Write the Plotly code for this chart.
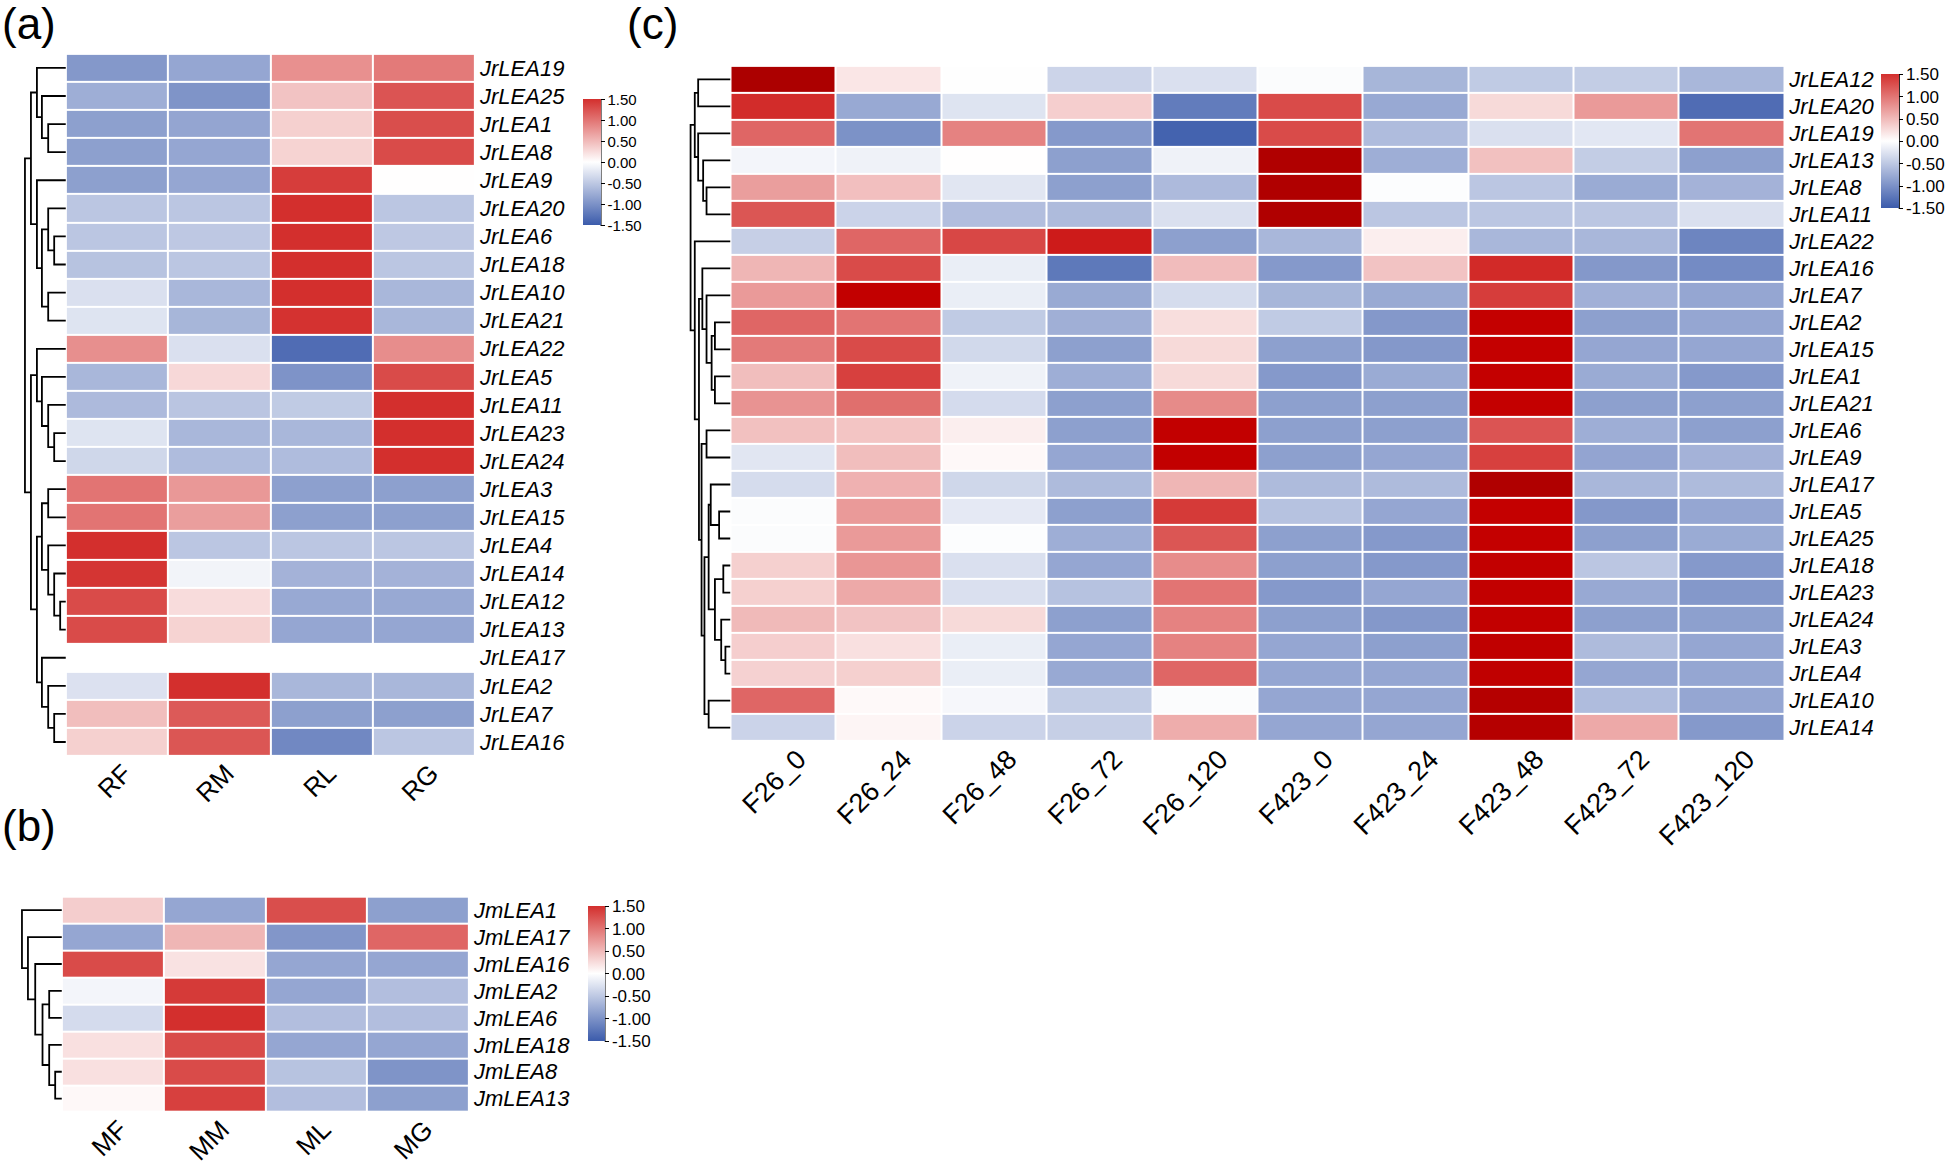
import plotly.graph_objects as go

# ---------------- data ----------------
# (a) JrLEA in four tissues (row z-scores)
rows_a = ['JrLEA19', 'JrLEA25', 'JrLEA1', 'JrLEA8', 'JrLEA9', 'JrLEA20', 'JrLEA6', 'JrLEA18',
          'JrLEA10', 'JrLEA21', 'JrLEA22', 'JrLEA5', 'JrLEA11', 'JrLEA23', 'JrLEA24', 'JrLEA3',
          'JrLEA15', 'JrLEA4', 'JrLEA14', 'JrLEA12', 'JrLEA13', 'JrLEA17', 'JrLEA2', 'JrLEA7',
          'JrLEA16']
cols_a = ['RF', 'RM', 'RL', 'RG']
z_a = [
    [-0.94, -0.81, 0.80, 0.96],
    [-0.74, -0.98, 0.43, 1.23],
    [-0.87, -0.82, 0.34, 1.28],
    [-0.87, -0.81, 0.32, 1.30],
    [-0.87, -0.81, 1.40, 0.01],
    [-0.52, -0.52, 1.50, -0.52],
    [-0.52, -0.50, 1.50, -0.50],
    [-0.55, -0.52, 1.50, -0.52],
    [-0.28, -0.66, 1.50, -0.66],
    [-0.25, -0.67, 1.48, -0.66],
    [0.81, -0.28, -1.34, 0.82],
    [-0.66, 0.28, -0.99, 1.30],
    [-0.63, -0.53, -0.48, 1.50],
    [-0.25, -0.66, -0.66, 1.50],
    [-0.37, -0.61, -0.61, 1.50],
    [1.00, 0.74, -0.87, -0.87],
    [1.00, 0.70, -0.87, -0.87],
    [1.50, -0.52, -0.52, -0.52],
    [1.46, -0.10, -0.70, -0.70],
    [1.30, 0.25, -0.79, -0.79],
    [1.30, 0.32, -0.81, -0.81],
    [None, None, None, None],
    [-0.27, 1.50, -0.66, -0.66],
    [0.47, 1.19, -0.87, -0.87],
    [0.34, 1.22, -1.09, -0.52],
]
# dendrogram merges: (left, right, height in px); ids >= n refer to earlier merges
tree_a = [(2, 3, 17.7), (1, 25, 24), (0, 26, 29), (6, 7, 11.7), (5, 28, 17.7), (8, 9, 17.7),
          (29, 30, 24), (4, 31, 29), (27, 32, 35), (13, 14, 11.7), (12, 34, 17.7), (11, 35, 24),
          (10, 36, 29), (15, 16, 17.7), (19, 20, 5.7), (18, 39, 11.7), (17, 40, 17.7),
          (38, 41, 24), (23, 24, 11.7), (22, 43, 17.7), (21, 44, 24), (42, 45, 29),
          (37, 46, 35), (33, 47, 41)]

# (b) JmLEA in four tissues
rows_b = ['JmLEA1', 'JmLEA17', 'JmLEA16', 'JmLEA2', 'JmLEA6', 'JmLEA18', 'JmLEA8', 'JmLEA13']
cols_b = ['MF', 'MM', 'ML', 'MG']
z_b = [
    [0.36, -0.81, 1.28, -0.87],
    [-0.81, 0.53, -0.96, 1.10],
    [1.30, 0.21, -0.81, -0.81],
    [-0.09, 1.42, -0.81, -0.59],
    [-0.33, 1.50, -0.59, -0.59],
    [0.22, 1.30, -0.81, -0.81],
    [0.22, 1.30, -0.55, -0.98],
    [0.05, 1.38, -0.59, -0.87],
]
tree_b = [(6, 7, 6.7), (5, 8, 12.7), (3, 4, 12.7), (10, 9, 19.4), (2, 11, 26.7),
          (1, 12, 34), (0, 13, 40)]

# (c) JrLEA over time in two cultivars
rows_c = ['JrLEA12', 'JrLEA20', 'JrLEA19', 'JrLEA13', 'JrLEA8', 'JrLEA11', 'JrLEA22', 'JrLEA16',
          'JrLEA7', 'JrLEA2', 'JrLEA15', 'JrLEA1', 'JrLEA21', 'JrLEA6', 'JrLEA9', 'JrLEA17',
          'JrLEA5', 'JrLEA25', 'JrLEA18', 'JrLEA23', 'JrLEA24', 'JrLEA3', 'JrLEA4', 'JrLEA10',
          'JrLEA14']
cols_c = ['F26_0', 'F26_24', 'F26_48', 'F26_72', 'F26_120',
          'F423_0', 'F423_24', 'F423_48', 'F423_72', 'F423_120']
z_c = [
    [2.75, 0.18, -0.01, -0.39, -0.28, -0.03, -0.67, -0.48, -0.46, -0.66],
    [1.55, -0.79, -0.25, 0.35, -1.20, 1.30, -0.79, 0.27, 0.73, -1.34],
    [1.10, -1.00, 0.90, -0.93, -1.43, 1.30, -0.61, -0.28, -0.22, 1.00],
    [-0.09, -0.12, 0.01, -0.87, -0.12, 2.65, -0.74, 0.45, -0.46, -0.87],
    [0.70, 0.46, -0.23, -0.87, -0.63, 2.65, -0.02, -0.52, -0.77, -0.70],
    [1.22, -0.40, -0.59, -0.62, -0.28, 2.65, -0.52, -0.52, -0.52, -0.28],
    [-0.44, 1.10, 1.33, 1.80, -0.87, -0.66, 0.12, -0.66, -0.66, -1.12],
    [0.53, 1.30, -0.16, -1.23, 0.48, -0.93, 0.43, 1.57, -0.94, -1.06],
    [0.73, 2.25, -0.16, -0.78, -0.32, -0.67, -0.78, 1.40, -0.72, -0.81],
    [1.10, 1.00, -0.48, -0.73, 0.24, -0.48, -0.94, 2.20, -0.87, -0.81],
    [0.96, 1.30, -0.35, -0.87, 0.27, -0.87, -0.94, 2.20, -0.81, -0.81],
    [0.47, 1.38, -0.12, -0.74, 0.27, -0.93, -0.77, 2.20, -0.77, -0.93],
    [0.78, 1.04, -0.33, -0.87, 0.84, -0.87, -0.87, 2.20, -0.87, -0.87],
    [0.45, 0.42, 0.12, -0.87, 2.25, -0.87, -0.87, 1.23, -0.74, -0.87],
    [-0.23, 0.47, 0.05, -0.81, 2.25, -0.87, -0.81, 1.38, -0.83, -0.70],
    [-0.32, 0.56, -0.37, -0.62, 0.53, -0.62, -0.62, 2.65, -0.66, -0.62],
    [-0.03, 0.73, -0.20, -0.87, 1.42, -0.56, -0.81, 2.20, -0.94, -0.81],
    [-0.03, 0.73, -0.02, -0.74, 1.22, -0.87, -0.93, 2.20, -0.87, -0.77],
    [0.34, 0.76, -0.28, -0.81, 0.83, -0.87, -0.93, 2.25, -0.52, -0.93],
    [0.34, 0.62, -0.28, -0.56, 1.00, -0.93, -0.81, 2.25, -0.79, -0.94],
    [0.50, 0.43, 0.27, -0.87, 0.90, -0.87, -0.94, 2.25, -0.87, -0.87],
    [0.35, 0.22, -0.16, -0.81, 0.90, -0.81, -0.87, 2.30, -0.62, -0.81],
    [0.33, 0.34, -0.16, -0.79, 1.10, -0.81, -0.81, 2.30, -0.81, -0.81],
    [1.10, 0.04, -0.07, -0.46, -0.03, -0.81, -0.81, 2.55, -0.61, -0.81],
    [-0.40, 0.07, -0.40, -0.44, 0.59, -0.81, -0.81, 2.55, 0.62, -0.93],
]
tree_c = [(0, 1, 32.4), (4, 5, 24), (3, 26, 27.4), (2, 27, 32.4), (25, 28, 35.8),
          (9, 10, 15.6), (11, 12, 15.6), (30, 31, 18.9), (8, 32, 24), (7, 33, 28.2),
          (13, 14, 24), (16, 17, 11.4), (15, 36, 19.8), (18, 19, 7.2), (21, 22, 5.1),
          (20, 39, 9.3), (38, 40, 15.6), (37, 41, 21.9), (23, 24, 21.9), (42, 43, 26.1),
          (35, 44, 29), (34, 45, 31.6), (6, 46, 35.8), (29, 47, 40)]

cb_ticks = [1.5, 1.0, 0.5, 0.0, -0.5, -1.0, -1.5]
cb_text = ['1.50', '1.00', '0.50', '0.00', '-0.50', '-1.00', '-1.50']

# ---------------- styling ----------------
W, H = 1945, 1166
FONT = 'Liberation Sans, Arial, sans-serif'
ZMIN, ZMAX = -1.5, 2.9
heat_scale = [[0, 'rgb(59,91,171)'], [1.5 / 4.4, 'rgb(255,255,255)'], [3.0 / 4.4, 'rgb(211,47,45)'],
              [3.7 / 4.4, 'rgb(196,0,0)'], [1, 'rgb(165,0,0)']]
bar_scale = [[0, 'rgb(59,91,171)'], [0.5, 'rgb(255,255,255)'], [1, 'rgb(211,47,45)']]


def fx(px):
    return px / W


def fy(px):
    return 1 - px / H


def dendro_lines(tree, n):
    pos = {i: (0.0, float(i)) for i in range(n)}
    xs, ys = [], []
    for k, (a, b, h) in enumerate(tree):
        ha, ya = pos[a]
        hb, yb = pos[b]
        xs += [ha, h, h, hb, None]
        ys += [ya, ya, yb, yb, None]
        pos[n + k] = (h, (ya + yb) / 2)
    return xs, ys


fig = go.Figure()
layout = {}
shapes = []

# panel geometry in reference pixels: heatmap box, dendrogram left edge, colorbar box
panels = [
    dict(rows=rows_a, cols=cols_a, z=z_a, tree=tree_a, box=(66, 476, 54, 758), dleft=20,
         cbar=(584, 602, 100, 226), cbsize=15, xfont=26, shift=7),
    dict(rows=rows_b, cols=cols_b, z=z_b, tree=tree_b, box=(62, 470, 899, 1115), dleft=16,
         cbar=(589, 606, 909, 1044), cbsize=17, xfont=26, shift=7),
    dict(rows=rows_c, cols=cols_c, z=z_c, tree=tree_c, box=(732, 1788, 66, 743), dleft=686,
         cbar=(1885, 1903, 75, 209), cbsize=17, xfont=27, shift=15),
]

for i, p in enumerate(panels):
    hx, dx = 2 * i + 1, 2 * i + 2
    x0, x1, y0, y1 = p['box']
    n = len(p['rows'])
    hs = '' if hx == 1 else str(hx)

    # heatmap
    fig.add_trace(go.Heatmap(z=p['z'], x=p['cols'], y=p['rows'], zmin=ZMIN, zmax=ZMAX,
                             colorscale=heat_scale, showscale=False, xgap=2, ygap=2,
                             xaxis='x' + hs, yaxis='y' + hs, hoverinfo='skip'))
    layout['xaxis' + hs] = dict(domain=[fx(x0), fx(x1)], anchor='y' + hs, tickangle=-45,
                                ticks='', ticklabelstandoff=-4, ticklabelshift=p['shift'],
                                tickfont=dict(family=FONT, size=p['xfont'], color='black'),
                                showgrid=False, zeroline=False, showline=False)
    layout['yaxis' + hs] = dict(domain=[fy(y1), fy(y0)], anchor='x' + hs, side='right',
                                range=[n - 0.5, -0.5], showgrid=False, zeroline=False,
                                ticklabelstandoff=4,
                                tickfont=dict(family=FONT, size=22, color='black', style='italic'))

    # dendrogram
    xs, ys = dendro_lines(p['tree'], n)
    fig.add_trace(go.Scatter(x=xs, y=ys, mode='lines', line=dict(color='black', width=1.8),
                             xaxis='x%d' % dx, yaxis='y%d' % dx, hoverinfo='skip',
                             showlegend=False))
    layout['xaxis%d' % dx] = dict(domain=[fx(p['dleft']), fx(x0)], anchor='y%d' % dx,
                                  range=[x0 - p['dleft'], 0], visible=False)
    layout['yaxis%d' % dx] = dict(domain=[fy(y1), fy(y0)], anchor='x%d' % dx,
                                  range=[n - 0.5, -0.5], visible=False)

    # colour key
    c0, c1, c2, c3 = p['cbar']
    fig.add_trace(go.Scatter(x=[0], y=[0], mode='markers', xaxis='x%d' % dx, yaxis='y%d' % dx,
                             marker=dict(color=[0], cmin=-1.5, cmax=1.5, colorscale=bar_scale,
                                         opacity=0, showscale=True,
                                         colorbar=dict(x=fx(c0), xanchor='left', y=fy(c3),
                                                       yanchor='bottom', len=(c3 - c2) / H,
                                                       thickness=c1 - c0, xpad=0, ypad=0,
                                                       outlinewidth=0, tickvals=cb_ticks,
                                                       ticktext=cb_text, ticks='outside',
                                                       ticklen=4, tickcolor='black',
                                                       tickfont=dict(family=FONT, size=p['cbsize'],
                                                                     color='black'))),
                             hoverinfo='skip', showlegend=False))
    shapes.append(dict(type='line', xref='paper', yref='paper', x0=fx(c1), x1=fx(c1),
                       y0=fy(c2), y1=fy(c3), line=dict(color='black', width=1.5)))

annotations = [
    dict(text='(a)', x=0, y=1),
    dict(text='(b)', x=0, y=fy(804)),
    dict(text='(c)', x=fx(626), y=1),
]
for a in annotations:
    a.update(xref='paper', yref='paper', xanchor='left', yanchor='top', showarrow=False,
             yshift=3, font=dict(family=FONT, size=44, color='black'))

fig.update_layout(width=W, height=H, margin=dict(l=0, r=0, t=0, b=0, pad=0),
                  paper_bgcolor='white', plot_bgcolor='white', showlegend=False,
                  shapes=shapes, annotations=annotations, **layout)

# drop the default 8px body margin so the figure fills the window exactly
fig.write_html("out.html", config={'displayModeBar': False},
               post_script="document.body.style.margin='0px';"
                           "document.documentElement.style.overflow='hidden';")
